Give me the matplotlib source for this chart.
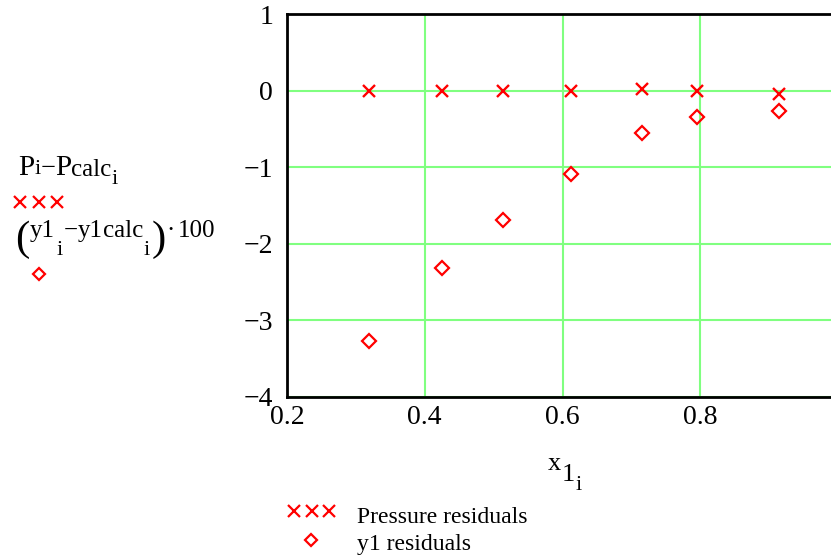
import matplotlib.pyplot as plt
from matplotlib.lines import Line2D

plt.rcParams['font.family'] = 'Liberation Serif'

# data
x1 = [0.3195, 0.4245, 0.513, 0.612, 0.7157, 0.796, 0.914]
p_resid = [0.0, 0.0, 0.0, 0.0, 0.02, 0.0, -0.04]
y1_resid = [-3.27, -2.32, -1.69, -1.09, -0.56, -0.35, -0.26]
xticks = [0.2, 0.4, 0.6, 0.8]
yticks = [1, 0, -1, -2, -3, -4]

W, H = 831, 559
fig = plt.figure(figsize=(W/100, H/100), dpi=100)
rend = fig.canvas.get_renderer()

def pieces(x0, y0, parts):
    # lay out (text, size, dy, gap) pieces left to right, pixel coords from top-left
    x = x0
    for s, size, dy, gap in parts:
        x += gap
        t = fig.text(x/W, 1-(y0+dy)/H, s, fontsize=size, va='baseline')
        x += t.get_window_extent(rend).width

def mark(x, y, m, ms):
    if m == 'x':
        fig.add_artist(Line2D([x/W], [1-y/H], marker='x', color='red', ms=ms, mew=1.6))
    else:
        fig.add_artist(Line2D([x/W], [1-y/H], marker='D', color='red', mfc='none', ms=ms, mew=1.6))

# right edge of the axes lies just past the image border
ax = fig.add_axes([287/W, 1-397/H, (838-287)/W, (397-14)/H])
ax.set_xlim(0.2, 1.0)
ax.set_ylim(-4, 1)
ax.set_xticks(xticks)
ax.set_yticks(yticks)
ax.set_xticklabels(['0.2', '0.4', '0.6', '0.8'])
ax.set_yticklabels(['1', '0', '\u22121', '\u22122', '\u22123', '\u22124'])
ax.grid(True, color='#80ff80', lw=1.5)
ax.set_axisbelow(True)
ax.tick_params(length=0, labelsize=20)
ax.tick_params(axis='y', pad=10)
ax.tick_params(axis='x', pad=6)
for lab in ax.get_xticklabels():
    lab.set_x(lab.get_position()[0])
for s in ax.spines.values():
    s.set_linewidth(2)

ax.plot(x1, p_resid, 'x', color='red', ms=9.2, mew=1.7, ls='none', clip_on=False)
ax.plot(x1, y1_resid, 'D', color='red', mfc='none', ms=7, mew=1.6, ls='none', clip_on=False)

# x label  x1 with subscript i
pieces(548, 470, [('x', 19, 0, 0), ('1', 19, 11, 0), ('i', 16, 20, 1)])

# y label block on the left
pieces(18, 175, [('P', 21, 0, 0), ('i', 16, -1, 0), ('\u2212', 19, 0, 0), ('P', 21, 0, 0),
                 ('calc', 18, 1, 0), ('i', 16, 9, 0)])
for xx in [20, 38.5, 56.5]:
    mark(xx, 202, 'x', 9.2)
pieces(15, 237, [('(', 31, 13, 0), ('y1', 18, 0, 0), ('i', 16, 18, 2), ('\u2212', 18, 0, 1),
                 ('y1', 18, 0, 0), ('calc', 18, 0, 0), ('i', 16, 18, 1),
                 (')', 31, 13, 1), ('\u00b7', 18, 0, 1), ('100', 18, 0, 3)])
mark(39, 274, 'D', 6)

# legend under the plot
for xx in [293.5, 311.5, 328.5]:
    mark(xx, 511, 'x', 9.2)
mark(311, 540, 'D', 6)
fig.text(357/W, 1-523/H, 'Pressure residuals', fontsize=17, va='baseline')
fig.text(357/W, 1-550/H, 'y1 residuals', fontsize=17, va='baseline')

fig.savefig('out.png', dpi=100)
